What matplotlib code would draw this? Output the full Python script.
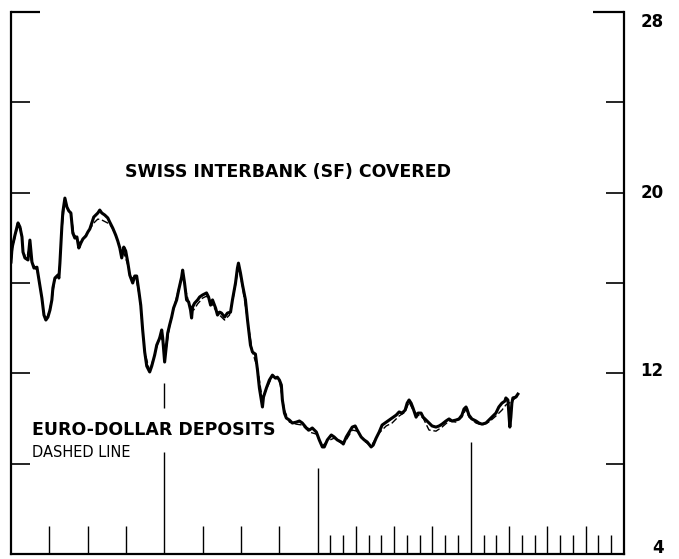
import matplotlib
matplotlib.use("Agg")
import matplotlib.pyplot as plt

# ---- data (x in months from start of period, y in percent) ----
swiss_x = [0.00, 0.08, 0.31, 0.55, 0.70, 0.86, 0.94, 1.09, 1.33, 1.48, 1.64, 1.80, 2.03, 2.19, 2.42,
           2.58, 2.73, 2.89, 3.05, 3.20, 3.28, 3.44, 3.67, 3.75, 3.83, 3.98, 4.06, 4.22, 4.38, 4.53,
           4.69, 4.84, 5.00, 5.16, 5.31, 5.47, 5.63, 5.86, 6.02, 6.17, 6.33, 6.48, 6.64, 6.80, 6.95,
           7.11, 7.34, 7.58, 7.73, 7.97, 8.20, 8.36, 8.52, 8.67, 8.83, 8.98, 9.14, 9.30, 9.53, 9.69,
           9.84, 10.00, 10.16, 10.31, 10.47, 10.63, 10.86, 11.02, 11.25, 11.41, 11.64, 11.80, 11.88,
           12.03, 12.19, 12.27, 12.42, 12.58, 12.73, 12.97, 13.13, 13.36, 13.44, 13.59, 13.75, 13.91,
           14.06, 14.14, 14.22, 14.38, 14.61, 14.77, 15.00, 15.31, 15.47, 15.63, 15.78, 16.02, 16.17,
           16.33, 16.48, 16.72, 16.95, 17.19, 17.34, 17.58, 17.73, 17.81, 17.97, 18.13, 18.36, 18.52,
           18.75, 18.91, 19.14, 19.30, 19.45, 19.69, 19.77, 20.00, 20.23, 20.47, 20.70, 20.86, 21.02,
           21.17, 21.25, 21.41, 21.56, 21.80, 22.03, 22.34, 22.58, 22.81, 23.13, 23.36, 23.59, 23.91,
           24.14, 24.38, 24.53, 24.77, 25.08, 25.31, 25.55, 25.86, 26.02, 26.25, 26.48, 26.72, 26.95,
           27.11, 27.42, 27.66, 27.89, 28.20, 28.36, 28.59, 28.83, 29.06, 29.38, 29.61, 29.84, 30.16,
           30.39, 30.63, 30.86, 31.02, 31.17, 31.33, 31.48, 31.72, 31.88, 32.11, 32.27, 32.50, 32.73,
           32.97, 33.28, 33.52, 33.75, 34.06, 34.30, 34.53, 34.84, 35.08, 35.31, 35.47, 35.63, 35.70,
           35.86, 36.09, 36.41, 36.64, 36.88, 37.19, 37.42, 37.66, 37.97, 38.20, 38.44, 38.67, 38.75,
           38.91, 39.06, 39.14, 39.22, 39.30, 39.53, 39.69]
swiss_y = [16.93, 17.55, 18.12, 18.66, 18.48, 18.04, 17.37, 17.11, 17.02, 17.90, 16.93, 16.66, 16.70, 16.13, 15.33,
           14.58, 14.36, 14.49, 14.80, 15.25, 15.78, 16.22, 16.35, 16.22, 16.88, 18.48, 19.14, 19.76, 19.36, 19.19,
           19.10, 18.21, 17.99, 18.04, 17.55, 17.77, 17.95, 18.08, 18.26, 18.39, 18.66, 18.92, 19.01, 19.10, 19.23,
           19.10, 19.01, 18.88, 18.70, 18.43, 18.12, 17.86, 17.55, 17.11, 17.59, 17.42, 16.93, 16.35, 16.00, 16.31,
           16.31, 15.69, 15.02, 13.92, 12.94, 12.32, 12.06, 12.32, 12.81, 13.25, 13.56, 13.92, 13.56,
           12.50, 13.34, 13.78, 14.14, 14.49, 14.89, 15.25, 15.69, 16.26, 16.57, 16.00, 15.25, 15.16,
           14.80, 14.45, 14.94, 15.11, 15.25, 15.38, 15.47, 15.56, 15.38, 15.02, 15.25, 14.89, 14.58,
           14.71, 14.67, 14.49, 14.67, 14.71, 15.25, 16.00, 16.66, 16.88, 16.44, 15.91, 15.25, 14.36,
           13.25, 12.94, 12.85, 12.15, 11.35, 10.51, 10.95, 11.35, 11.70, 11.92, 11.79, 11.83, 11.70,
           11.48, 10.82, 10.24, 10.02, 9.93, 9.80, 9.84, 9.89, 9.80, 9.58, 9.49, 9.58, 9.40,
           9.05, 8.74, 8.74, 9.05, 9.27, 9.18, 9.05, 8.96, 8.87, 9.18, 9.40, 9.62, 9.67,
           9.49, 9.18, 9.05, 8.96, 8.74, 8.82, 9.13, 9.40, 9.71, 9.84, 9.93, 10.02, 10.15,
           10.29, 10.24, 10.37, 10.68, 10.82, 10.68, 10.46, 10.06, 10.24, 10.24, 10.06, 9.93, 9.80,
           9.67, 9.62, 9.67, 9.75, 9.89, 9.98, 9.89, 9.93, 9.98, 10.15, 10.42, 10.51, 10.42,
           10.15, 9.98, 9.89, 9.80, 9.75, 9.80, 9.93, 10.06, 10.24, 10.51, 10.68, 10.77, 10.91,
           10.82, 9.62, 10.06, 10.68, 10.91, 10.95, 11.08]

euro_x = [0.00, 0.16, 0.55, 0.78, 0.94, 1.17, 1.41, 1.64, 1.88, 2.11, 2.42, 2.66, 2.89, 3.20, 3.44,
          3.75, 3.98, 4.22, 4.45, 4.69, 4.92, 5.16, 5.39, 5.70, 6.02, 6.33, 6.56, 6.80, 7.11, 7.42,
          7.73, 7.97, 8.28, 8.52, 8.75, 9.14, 9.38, 9.77, 10.08, 10.47, 10.86, 11.25, 11.64, 11.88,
          12.11, 12.42, 12.81, 13.20, 13.44, 13.67, 13.98, 14.30, 14.61, 15.00, 15.31, 15.63, 16.02,
          16.33, 16.72, 17.11, 17.34, 17.58, 17.81, 18.13, 18.52, 18.91, 19.30, 19.69, 20.00, 20.47,
          21.02, 21.41, 21.80, 22.34, 22.81, 23.36, 23.91, 24.38, 24.77, 25.31, 25.86, 26.25, 26.72,
          27.11, 27.66, 28.20, 28.83, 29.38, 29.84, 30.39, 30.86, 31.17, 31.48, 31.88, 32.27, 32.73,
          33.28, 33.75, 34.30, 34.84, 35.31, 35.63, 35.86, 36.41, 36.88, 37.42, 37.97, 38.44, 38.75,
          39.14, 39.69]
euro_y = [16.93, 17.68, 18.57, 18.39, 17.46, 17.06, 17.46, 16.88, 16.71, 16.40, 15.33, 14.40, 14.54, 15.25, 16.18,
          16.31, 18.35, 19.67, 19.28, 19.05, 18.17, 17.99, 17.73, 17.99, 18.26, 18.52, 18.70, 18.83, 18.79, 18.70,
          18.61, 18.39, 17.99, 17.55, 17.50, 16.80, 16.18, 16.31, 15.33, 12.94, 12.10, 12.85, 13.61, 13.47,
          12.94, 14.09, 15.02, 15.91, 16.49, 15.69, 15.02, 14.80, 15.07, 15.33, 15.42, 15.16, 14.80,
          14.58, 14.36, 14.58, 15.16, 15.91, 16.75, 15.82, 14.36, 12.94, 12.23, 10.82, 11.30, 11.88,
          11.66, 10.37, 9.84, 9.75, 9.71, 9.40, 9.31, 8.78, 9.00, 9.13, 8.91, 9.05, 9.49,
          9.44, 9.00, 8.78, 9.36, 9.67, 9.80, 10.11, 10.29, 10.73, 10.37, 10.15, 10.02, 9.49,
          9.44, 9.62, 9.89, 9.84, 10.06, 10.42, 10.06, 9.80, 9.71, 9.84, 10.11, 10.37, 10.60,
          10.73, 11.00]

y_tick_values = [8, 12, 16, 20, 24]
y_top = 28
right_labels = ["28", "20", "12", "4"]
right_label_y = [27.56, 19.98, 12.10, 4.26]
year_marks = [12, 24, 36]
quarter_ticks = [3, 6, 9, 15, 18, 21, 27, 30, 33, 39, 42, 45]
month_ticks = [25, 26, 28, 29, 31, 32, 34, 35, 37, 38, 40, 41, 43, 44, 46, 47]

# ---- figure ----
W, H = 679, 559
fig = plt.figure(figsize=(W / 100, H / 100), dpi=100)
ax = fig.add_axes([11 / W, 5 / H, 613 / W, 542 / H])
ax.set_xlim(0, 48)
ax.set_ylim(4, 28)
ax.set_xticks([])
ax.set_yticks([])
ax.spines["top"].set_visible(False)
for s in ("left", "right", "bottom"):
    ax.spines[s].set_linewidth(1.6)
    ax.spines[s].set_color("black")

# y ticks (drawn inward on both sides)
ax.hlines(y_tick_values, 0, 1.5, color="black", lw=1.2, clip_on=False)
ax.hlines(y_tick_values, 46.6, 48, color="black", lw=1.2, clip_on=False)
ax.hlines([y_top], 0, 2.3, color="black", lw=1.6, clip_on=False)
ax.hlines([y_top], 45.6, 48, color="black", lw=1.6, clip_on=False)

# x ticks
ax.vlines(quarter_ticks, 4, 5.24, color="black", lw=1.0)
ax.vlines(month_ticks, 4, 4.84, color="black", lw=1.0)
ax.vlines([year_marks[0]], 4, 8.51, color="black", lw=1.0)
ax.vlines([year_marks[0]], 10.46, 11.57, color="black", lw=1.0)
ax.vlines([year_marks[1]], 4, 7.81, color="black", lw=1.0)
ax.vlines([year_marks[2]], 4, 8.96, color="black", lw=1.0)

# series
ax.plot(euro_x, euro_y, color="black", lw=1.0, linestyle=(0, (5, 2)), zorder=3)
ax.plot(swiss_x, swiss_y, color="black", lw=2.2, solid_joinstyle="round", zorder=4)

# labels
ax.text(8.93, 20.91, "SWISS INTERBANK (SF) COVERED", fontsize=12.5, fontweight="bold",
        ha="left", va="center", color="black")
ax.text(1.64, 9.47, "EURO-DOLLAR DEPOSITS", fontsize=12.5, fontweight="bold",
        ha="left", va="center", color="black")
ax.text(1.64, 8.51, "DASHED LINE", fontsize=10.5, ha="left", va="center", color="black")

for lab, yv in zip(right_labels, right_label_y):
    ax.text(51.1, yv, lab, fontsize=12, fontweight="bold", ha="right", va="center",
            color="black", clip_on=False)

fig.savefig("out.png", dpi=100)
